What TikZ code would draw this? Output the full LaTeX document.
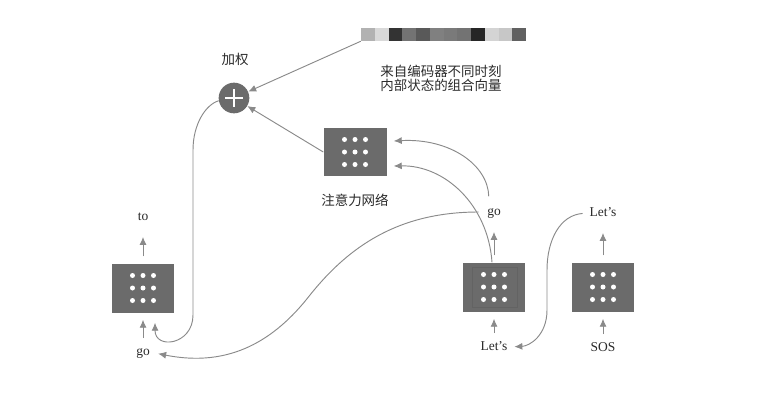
\documentclass[tikz,border=0pt]{standalone}
\usepackage{fontspec}
\setmainfont{Liberation Serif}
\newfontfamily\cjk{Noto Sans CJK SC}
\usetikzlibrary{positioning,calc,arrows.meta}
\definecolor{cellgray}{HTML}{6B6B6B}
\definecolor{linegray}{HTML}{8A8A8A}
\definecolor{txtgray}{HTML}{2A2A2A}
\tikzset{
  unit/.style={fill=cellgray, minimum width=18.6mm, minimum height=14.7mm, inner sep=0pt},
  lbl/.style={inner sep=0pt, text height=1.6ex, text depth=0.4ex, font=\fontsize{11.5pt}{12pt}\selectfont, text=txtgray},
  zh/.style={inner sep=0pt, font=\cjk\fontsize{11.5pt}{12pt}\selectfont, text=txtgray},
  arr/.style={draw=linegray, line width=0.8pt, -{Latex[length=2.4mm,width=2.1mm]}},
  inarr/.style={arr, shorten <=2.5mm, shorten >=2.1mm},
  outarr/.style={arr, shorten <=2.1mm, shorten >=4.3mm},
}

\begin{document}
\begin{tikzpicture}[x=0.3mm, y=-0.3mm]
			\useasboundingbox (0,0) rectangle (759,405);
			% units
			\node[unit] (encL) at (143,288) {};
			\node[unit] (encM) at (494,287) {};
			\node[unit] (encR) at (603,287) {};
			\node[unit, minimum width=18.9mm, minimum height=14.4mm] (attn) at (355,152) {};
			\draw[cellgray!93!black, line width=0.4pt] ($(encM)+(-22,-20)$) rectangle ($(encM)+(23,20)$);
			\foreach \b in {encL,encM,encR,attn}
			\foreach \dx in {-1,0,1}
			\foreach \dy in {-1,0,1}
			\fill[white] ($(\b)+(\dx*10.5,\dy*12.5)$) circle (0.75mm);
			% combination vector
			\foreach \g [count=\k] in {30,15,80,55,65,50,52,55,85,17,22,62}
			\fill[black!\g] ({361+(\k-1)*13.75},28) rectangle ++(13.75,13);
			\node[minimum width=49.5mm, minimum height=3.9mm, inner sep=0pt] (vec) at (443.5,34.5) {};
			\node[zh, align=center] (vecl) at (441,78) {来自编码器不同时刻\\内部状态的组合向量};
			% weighted sum
			\node[circle, fill=cellgray, minimum size=9.2mm, inner sep=0pt] (plus) at (234,98) {};
			\draw[white, line width=1.8pt] ($(plus)+(-9,0)$) -- ($(plus)+(9,0)$) ($(plus)+(0,-9)$) -- ($(plus)+(0,9)$);
			\node[zh] (wsum) at (235,59) {加权};
			\node[zh] (attnl) at (355,200) {注意力网络};
			% words
			\node[lbl] (toL) at (143,217) {to};
			\node[lbl] (goL) at (143,352) {go};
			\node[lbl] (goM) at (494,212) {go};
			\node[lbl] (letM) at (494,347) {Let's};
			\node[lbl] (letR) at (603,213) {Let's};
			\node[lbl] (sos) at (603,348) {SOS};

			\draw[outarr] (encL.north) -- (toL.south);
			\draw[inarr] (goL.north) -- (encL.south);
			\draw[outarr] (encM.north) -- (goM.south);
			\draw[inarr] (letM.north) -- (encM.south);
			\draw[outarr] (encR.north) -- (letR.south);
			\draw[inarr] (sos.north) -- (encR.south);

			\begin{scope}
			\draw[arr] (vec.south west) -- (plus);
			\draw[arr] (attn.west) -- (plus);
			\draw[arr] (plus.190) .. controls (205,105) and (193,125) .. (193,150) -- (193,315) .. controls (193,345) and (155,350) .. ([shift={(12,10)}]encL.south);
			\draw[arr, shorten <=3mm] ([shift={(-5,0)}]goM.north) .. controls (488,165) and (450,138) .. ([shift={(7,-11)}]attn.east);
			\draw[arr] ([shift={(-2,0)}]encM.north) .. controls (488,205) and (445,165) .. ([shift={(7,14)}]attn.east);
			\draw[arr, shorten <=2.5mm, shorten >=2.5mm] (goM.west) .. controls (400,212) and (350,245) .. (310,295) .. controls (275,340) and (230,368) .. (goL.east);
			\draw[arr, shorten <=2mm, shorten >=2mm] (letR.west) .. controls (560,215) and (547,240) .. (547,270) -- (547,310) .. controls (547,335) and (530,346) .. (letM.east);
			\end{scope}
\end{tikzpicture}
\end{document}
